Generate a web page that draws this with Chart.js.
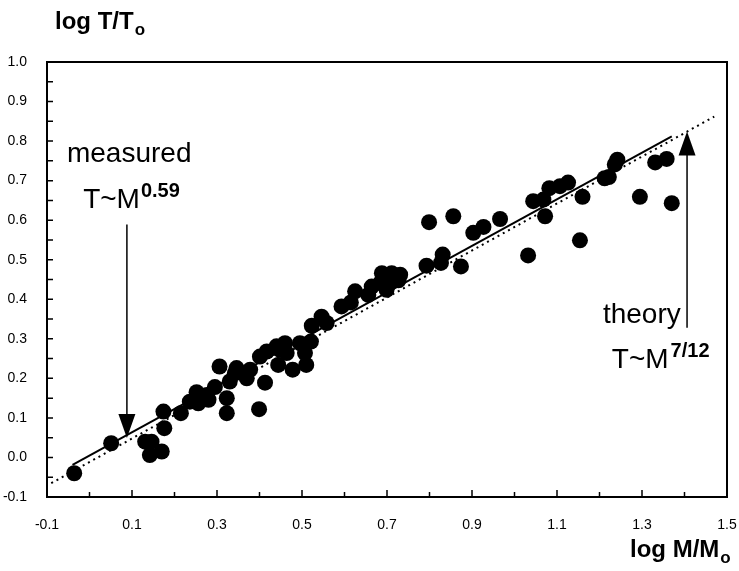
<!DOCTYPE html>
<html>
<head>
<meta charset="utf-8">
<script src="https://cdn.jsdelivr.net/npm/chart.js@4/dist/chart.umd.min.js"></script>
<style>
  html, body { margin: 0; padding: 0; background: #fff; }
  #wrap { width: 739px; height: 571px; }
</style>
</head>
<body>
<div id="wrap"><canvas id="chart" width="739" height="571"></canvas></div>
<script>
// measured stars: log M/Mo vs log T/To
const logMass = [
  -0.036, 0.051, 0.131, 0.146, 0.142, 0.170, 0.176, 0.174, 0.215, 0.236,
  0.252, 0.256, 0.276, 0.280, 0.295, 0.306, 0.323, 0.323, 0.330, 0.342,
  0.346, 0.370, 0.378, 0.399, 0.401, 0.413, 0.417, 0.440, 0.444, 0.448,
  0.460, 0.464, 0.478, 0.495, 0.507, 0.510, 0.521, 0.523, 0.546, 0.558,
  0.593, 0.615, 0.625, 0.656, 0.664, 0.688, 0.684, 0.699, 0.703, 0.711,
  0.731, 0.727, 0.793, 0.799, 0.827, 0.831, 0.856, 0.874, 0.903, 0.927,
  0.966, 1.032, 1.044, 1.068, 1.072, 1.082, 1.107, 1.126, 1.154, 1.160,
  1.212, 1.222, 1.236, 1.242, 1.295, 1.331, 1.358, 1.370
];
const logTemp = [
  -0.040, 0.036, 0.040, 0.040, 0.006, 0.015, 0.074, 0.116, 0.112, 0.141,
  0.165, 0.137, 0.158, 0.146, 0.178, 0.230, 0.150, 0.112, 0.192, 0.213,
  0.226, 0.200, 0.222, 0.122, 0.255, 0.189, 0.268, 0.281, 0.234, 0.272,
  0.289, 0.264, 0.222, 0.289, 0.264, 0.234, 0.293, 0.333, 0.356, 0.340,
  0.382, 0.392, 0.420, 0.411, 0.432, 0.466, 0.441, 0.424, 0.437, 0.466,
  0.462, 0.448, 0.485, 0.595, 0.492, 0.513, 0.610, 0.483, 0.568, 0.583,
  0.603, 0.511, 0.648, 0.652, 0.610, 0.681, 0.686, 0.695, 0.549, 0.659,
  0.706, 0.709, 0.741, 0.753, 0.659, 0.746, 0.755, 0.643
];

// fitted line (T~M^0.59) and theory line (T~M^7/12), end points
const measuredFitX = [-0.04, 1.37];
const measuredFitY = [-0.019, 0.812];
const theoryX = [-0.09, 1.47];
const theoryY = [-0.065, 0.862];

// tick labels
const xTickValues = [-0.1, 0.1, 0.3, 0.5, 0.7, 0.9, 1.1, 1.3, 1.5];
const yTickValues = [-0.1, 0.0, 0.1, 0.2, 0.3, 0.4, 0.5, 0.6, 0.7, 0.8, 0.9, 1.0];
const xMinorTicks = [0.0, 0.2, 0.4, 0.6, 0.8, 1.0, 1.2, 1.4];
const yMinorTicks = [-0.05, 0.05, 0.15, 0.25, 0.35, 0.45, 0.55, 0.65, 0.75, 0.85, 0.95];

// annotation arrows: [x, yFrom, yTip]
const measuredArrow = [0.088, 0.589, 0.049];
const theoryArrow = [1.406, 0.328, 0.824];

const FONT = '"Liberation Sans", Arial, Helvetica, sans-serif';

const points = logMass.map((x, i) => ({ x, y: logTemp[i] }));
const toXY = (xs, ys) => xs.map((x, i) => ({ x, y: ys[i] }));

// frame, inward ticks, arrows, texts
const decorations = {
    id: 'decorations',
    afterDatasetsDraw(chart) {
        const ctx = chart.ctx;
        const xs = chart.scales.x;
        const ys = chart.scales.y;
        const area = chart.chartArea;
        ctx.save();
        ctx.strokeStyle = '#000';
        ctx.fillStyle = '#000';

        // frame
        ctx.lineWidth = 2;
        ctx.strokeRect(area.left, area.top, area.right - area.left, area.bottom - area.top);

        // ticks
        ctx.lineWidth = 1.5;
        ctx.beginPath();
        xTickValues.forEach(v => {
            const px = xs.getPixelForValue(v);
            ctx.moveTo(px, area.bottom);
            ctx.lineTo(px, area.bottom - 7);
        });
        xMinorTicks.forEach(v => {
            const px = xs.getPixelForValue(v);
            ctx.moveTo(px, area.bottom);
            ctx.lineTo(px, area.bottom - 5);
        });
        yTickValues.concat(yMinorTicks).forEach(v => {
            const py = ys.getPixelForValue(v);
            ctx.moveTo(area.left, py);
            ctx.lineTo(area.left + 6, py);
        });
        ctx.stroke();

        // arrows
        const arrow = ([x, yFrom, yTip]) => {
            const px = xs.getPixelForValue(x);
            const p0 = ys.getPixelForValue(yFrom);
            const p1 = ys.getPixelForValue(yTip);
            const dir = p1 > p0 ? 1 : -1;
            ctx.lineWidth = 1.5;
            ctx.beginPath();
            ctx.moveTo(px, p0);
            ctx.lineTo(px, p1 - dir * 20);
            ctx.stroke();
            ctx.beginPath();
            ctx.moveTo(px, p1);
            ctx.lineTo(px - 8.5, p1 - dir * 24);
            ctx.lineTo(px + 8.5, p1 - dir * 24);
            ctx.closePath();
            ctx.fill();
        };
        arrow(measuredArrow);
        arrow(theoryArrow);

        // labels
        const put = (txt, x, y, font) => {
            ctx.font = font;
            ctx.fillText(txt, x, y);
            return x + ctx.measureText(txt).width;
        };
        ctx.textBaseline = 'alphabetic';
        ctx.textAlign = 'left';
        const big = '28px ' + FONT;
        const sup = 'bold 20px ' + FONT;
        put('measured', xs.getPixelForValue(-0.053), ys.getPixelForValue(0.746), big);
        let e = put('T~M', xs.getPixelForValue(-0.015), ys.getPixelForValue(0.632), big);
        put('0.59', e + 1, ys.getPixelForValue(0.659), sup);
        put('theory', xs.getPixelForValue(1.208), ys.getPixelForValue(0.340), big);
        e = put('T~M', xs.getPixelForValue(1.229), ys.getPixelForValue(0.227), big);
        put('7/12', e + 2, ys.getPixelForValue(0.254), sup);

        // axis titles
        e = put('log T/T', 55, 29, 'bold 24px ' + FONT);
        put('o', e + 1, 35, 'bold 17px ' + FONT);
        e = put('log M/M', 630, 557, 'bold 24px ' + FONT);
        put('o', e + 1, 563, 'bold 17px ' + FONT);
        ctx.restore();
    }
};

new Chart(document.getElementById('chart'), {
    type: 'scatter',
    data: {
        datasets: [
            {
                label: 'stars',
                data: points,
                pointRadius: 8,
                pointHoverRadius: 8,
                backgroundColor: '#000',
                borderWidth: 0,
                order: 0,
            },
            {
                label: 'measured',
                data: toXY(measuredFitX, measuredFitY),
                showLine: true,
                pointRadius: 0,
                borderColor: '#000',
                borderWidth: 2,
                order: 1,
            },
            {
                label: 'theory',
                data: toXY(theoryX, theoryY),
                showLine: true,
                pointRadius: 0,
                borderColor: '#000',
                borderWidth: 2,
                borderDash: [2, 4],
                order: 2,
            },
        ],
    },
    options: {
        responsive: false,
        animation: false,
        layout: { padding: { top: 62, right: 12, left: 0, bottom: 0 } },
        plugins: {
            legend: { display: false },
            tooltip: { enabled: false },
        },
        scales: {
            x: {
                type: 'linear',
                min: -0.1,
                max: 1.5,
                afterBuildTicks: s => { s.ticks = xTickValues.map(v => ({ value: v })); },
                afterFit: s => { s.height = 74; s.paddingLeft = 0; s.paddingRight = 0; },
                grid: { display: false },
                border: { display: false },
                ticks: {
                    padding: 12,
                    color: '#000',
                    font: { family: FONT, size: 14 },
                    callback: v => v.toFixed(1),
                    maxRotation: 0,
                },
            },
            y: {
                type: 'linear',
                min: -0.1,
                max: 1.0,
                afterBuildTicks: s => { s.ticks = yTickValues.map(v => ({ value: v })); },
                afterFit: s => { s.width = 47; s.paddingTop = 0; s.paddingBottom = 0; },
                grid: { display: false },
                border: { display: false },
                ticks: {
                    padding: 12,
                    color: '#000',
                    font: { family: FONT, size: 14 },
                    callback: v => v.toFixed(1),
                },
            },
        },
    },
    plugins: [decorations],
});
</script>
</body>
</html>
